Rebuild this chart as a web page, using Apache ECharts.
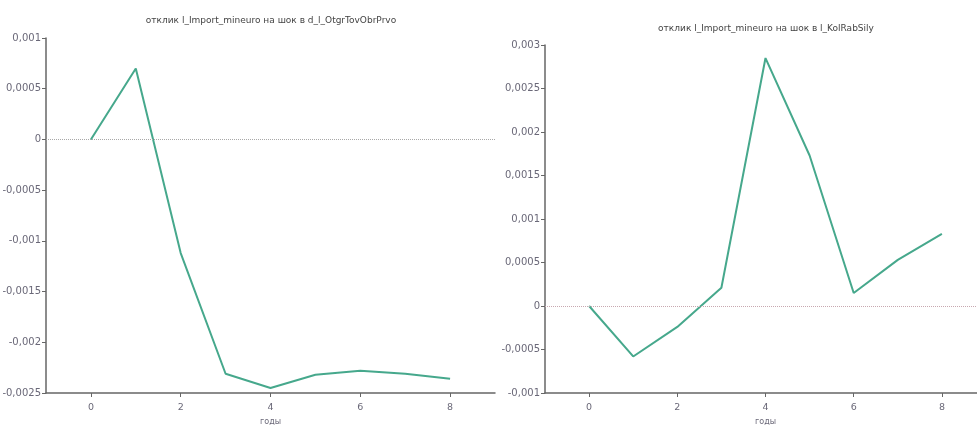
<!DOCTYPE html>
<html>
<head>
<meta charset="utf-8">
<script src="https://cdn.jsdelivr.net/npm/echarts@6/dist/echarts.min.js"></script>
<style>
  html, body { margin: 0; padding: 0; background: #fff; }
  #chart { width: 977px; height: 425px; }
</style>
</head>
<body>
<div id="chart"></div>
<script>
// periods (years after shock)
const periods = [0, 1, 2, 3, 4, 5, 6, 7, 8]
const xTicks = [0, 2, 4, 6, 8]

// response of l_Import_mineuro
const respOtgr = [0, 0.0007, -0.00112, -0.00231, -0.00245, -0.00232, -0.00228, -0.00231, -0.00236]
const respKolRab = [0, -0.00058, -0.00024, 0.00021, 0.00285, 0.00173, 0.00015, 0.00053, 0.00083]

const titles = [
  'отклик l_Import_mineuro на шок в d_l_OtgrTovObrPrvo',
  'отклик l_Import_mineuro на шок в l_KolRabSily'
]
const xName = 'годы'

const chart = echarts.init(document.getElementById('chart'))

const FONT = 'DejaVu Sans'
const axisColor = '#666'
const labelColor = '#6a6878'
const lineColor = '#46a88c'

// decimal comma like the original
const fmt = v => String(Number(v.toPrecision(6))).replace('.', ',')

function makeX(gridIndex) {
  return {
    type: 'value',
    gridIndex,
    min: -1,
    max: 9,
    name: xName,
    nameLocation: 'middle',
    nameGap: 25,
    nameTextStyle: { fontFamily: FONT, fontSize: 8, color: labelColor },
    splitLine: { show: false },
    axisLine: { show: true, onZero: false, lineStyle: { color: axisColor, width: 1.5 } },
    axisTick: { show: true, length: 4, customValues: xTicks, lineStyle: { color: axisColor } },
    axisLabel: { customValues: xTicks, margin: 10, fontFamily: FONT, fontSize: 9.5, color: labelColor }
  }
}

function makeY(gridIndex, min, max) {
  return {
    type: 'value',
    gridIndex,
    min,
    max,
    interval: 0.0005,
    splitLine: { show: false },
    axisLine: { show: true, onZero: false, lineStyle: { color: axisColor, width: 1.5 } },
    axisTick: { show: true, length: 4, lineStyle: { color: axisColor } },
    axisLabel: { margin: 5, fontFamily: FONT, fontSize: 10, color: labelColor, formatter: fmt }
  }
}

function makeSeries(idx, values, zeroColor) {
  return {
    type: 'line',
    xAxisIndex: idx,
    yAxisIndex: idx,
    data: periods.map((p, i) => [p, values[i]]),
    showSymbol: false,
    lineStyle: { color: lineColor, width: 2 },
    itemStyle: { color: lineColor },
    silent: true,
    markLine: {
      silent: true,
      symbol: ['none', 'none'],
      label: { show: false },
      lineStyle: { color: zeroColor, type: 'dotted', width: 1 },
      data: [{ yAxis: 0 }]
    }
  }
}

const option = {
  animation: false,
  backgroundColor: '#fff',
  grid: [
    { left: 46, right: 482, top: 38, bottom: 32, outerBoundsMode: 'none' },
    { left: 545, right: -9, top: 45, bottom: 32, outerBoundsMode: 'none' }
  ],
  xAxis: [makeX(0), makeX(1)],
  yAxis: [makeY(0, -0.0025, 0.001), makeY(1, -0.001, 0.003)],
  graphic: [
    { type: 'text', x: 271, y: 21, style: { text: titles[0], textAlign: 'center', textVerticalAlign: 'middle', font: '9px "DejaVu Sans"', fill: '#444' } },
    { type: 'text', x: 766, y: 29, style: { text: titles[1], textAlign: 'center', textVerticalAlign: 'middle', font: '9px "DejaVu Sans"', fill: '#444' } }
  ],
  series: [
    makeSeries(0, respOtgr, '#a8a8a8'),
    makeSeries(1, respKolRab, '#c8a8b0')
  ]
}

chart.setOption(option)
</script>
</body>
</html>
